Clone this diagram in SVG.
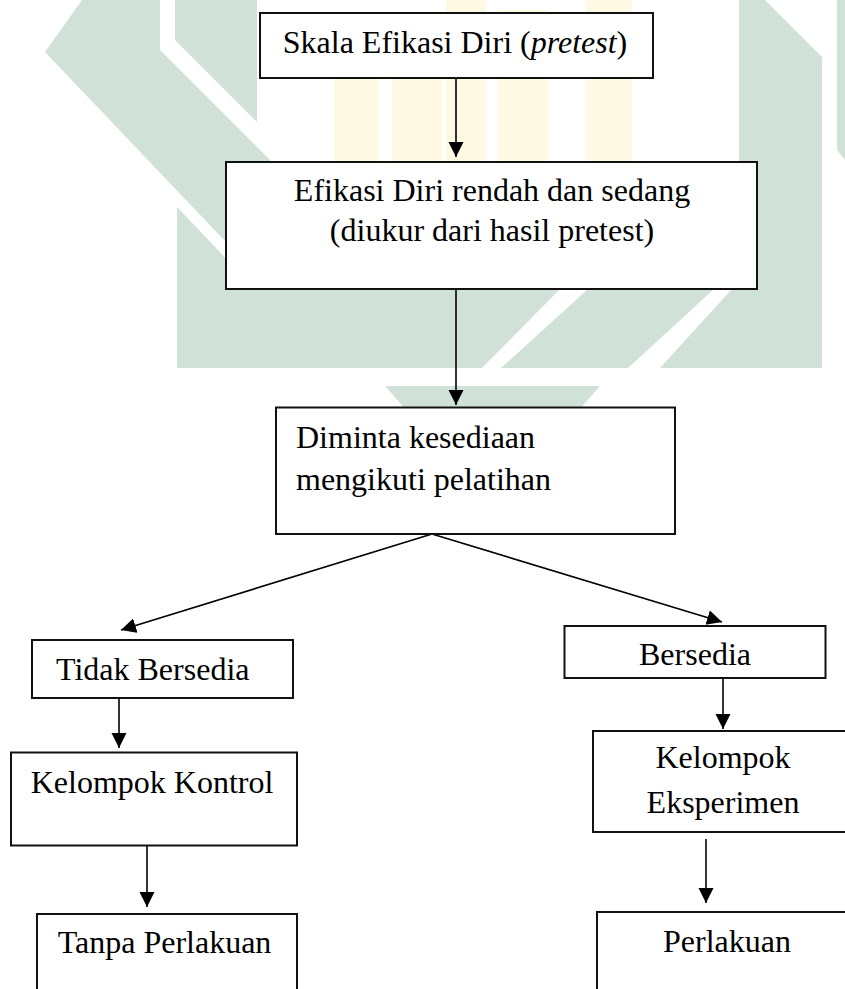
<svg xmlns="http://www.w3.org/2000/svg" width="845" height="989" viewBox="0 0 845 989">
  <style>
    .wm-g { fill: #d0e2d7; }
    .wm-w { fill: #ffffff; }
    .wm-y { fill: #fdf9e3; }
    .box { fill: #ffffff; stroke: #111111; stroke-width: 2; }
    .lbl { font-family: "Liberation Serif", "Times New Roman", serif; font-size: 32px; fill: #000000; }
    .conn { stroke: #000000; stroke-width: 1.6; fill: none; marker-end: url(#arrow); }
  </style>
  <defs>
    <marker id="arrow" markerUnits="userSpaceOnUse" markerWidth="16" markerHeight="16" viewBox="0 0 16 16" refX="15" refY="7.5" orient="auto">
      <path d="M0,0 L15,7.5 L0,15 z" fill="#000000"/>
    </marker>
  </defs>
  <rect x="0" y="0" width="845" height="989" fill="#ffffff"/>

  <g id="watermark">
    <rect class="wm-y" x="334" y="30" width="44" height="132"/>
    <rect class="wm-y" x="392" y="14" width="50" height="148"/>
    <rect class="wm-y" x="446" y="0" width="40" height="162"/>
    <rect class="wm-y" x="498" y="10" width="50" height="152"/>
    <rect class="wm-y" x="586" y="0" width="46" height="162"/>
    <polygon class="wm-g" points="82,0 160,0 160,50 340,230 245,262 45,52"/>
    <polygon class="wm-g" points="175,0 257,0 257,122 175,40"/>
    <polygon class="wm-g" points="177,207 236,269 740,269 740,368 177,368"/>
    <polygon class="wm-g" points="739,0 765,0 822,57 822,368 739,368"/>
    <polygon class="wm-g" points="837,0 845,0 845,160 837,150"/>
    <polygon class="wm-g" points="385,386 600,386 570,420 415,420"/>
    <polygon class="wm-w" points="560,289 588,289 501,368 482,368"/>
    <polygon class="wm-w" points="714,289 732,289 660,368 628,368"/>
  </g>

  <g id="connectors">
    <line class="conn" x1="456" y1="78" x2="456" y2="157"/>
    <line class="conn" x1="456" y1="289" x2="456" y2="405"/>
    <line class="conn" x1="432" y1="534" x2="121" y2="630"/>
    <line class="conn" x1="432" y1="534" x2="722" y2="622"/>
    <line class="conn" x1="119" y1="698" x2="119" y2="748"/>
    <line class="conn" x1="147" y1="846" x2="147" y2="907"/>
    <line class="conn" x1="723" y1="678" x2="723" y2="729"/>
    <line class="conn" x1="706" y1="839" x2="706" y2="903"/>
  </g>

  <g id="node-skala">
    <rect class="box" x="260" y="13" width="393" height="65"/>
    <text class="lbl" x="455" y="53" text-anchor="middle">Skala Efikasi Diri (<tspan font-style="italic">pretest</tspan>)</text>
  </g>

  <g id="node-efikasi">
    <rect class="box" x="226" y="162" width="531" height="127"/>
    <text class="lbl" x="492" y="201" text-anchor="middle">Efikasi Diri rendah dan sedang</text>
    <text class="lbl" x="492" y="241" text-anchor="middle">(diukur dari hasil pretest)</text>
  </g>

  <g id="node-diminta">
    <rect class="box" x="276" y="407.5" width="399" height="126.5"/>
    <text class="lbl" x="296" y="448">Diminta kesediaan</text>
    <text class="lbl" x="296" y="490">mengikuti pelatihan</text>
  </g>

  <g id="node-tidak">
    <rect class="box" x="32" y="640" width="261" height="58"/>
    <text class="lbl" x="56" y="680">Tidak Bersedia</text>
  </g>

  <g id="node-bersedia">
    <rect class="box" x="564.5" y="626" width="261" height="52"/>
    <text class="lbl" x="695" y="665" text-anchor="middle">Bersedia</text>
  </g>

  <g id="node-kontrol">
    <rect class="box" x="11" y="752.5" width="286" height="93"/>
    <text class="lbl" x="152" y="793" text-anchor="middle">Kelompok Kontrol</text>
  </g>

  <g id="node-eksperimen">
    <rect class="box" x="593" y="731" width="262" height="101"/>
    <text class="lbl" x="723" y="768" text-anchor="middle">Kelompok</text>
    <text class="lbl" x="723" y="813" text-anchor="middle">Eksperimen</text>
  </g>

  <g id="node-tanpa">
    <rect class="box" x="37" y="914" width="260" height="100"/>
    <text class="lbl" x="164.5" y="953" text-anchor="middle">Tanpa Perlakuan</text>
  </g>

  <g id="node-perlakuan">
    <rect class="box" x="597" y="912" width="262" height="100"/>
    <text class="lbl" x="727" y="952" text-anchor="middle">Perlakuan</text>
  </g>
</svg>
